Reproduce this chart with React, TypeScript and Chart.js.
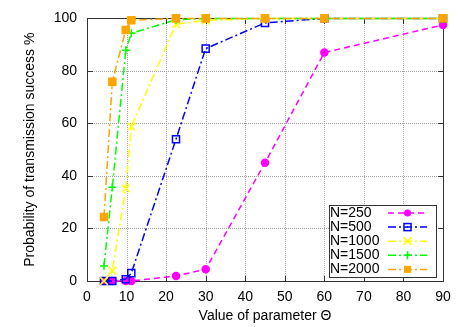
import React, { useEffect, useRef } from 'react';
import { Chart, registerables } from 'chart.js';

Chart.register(...registerables);

// ---- Data ----
const THETA = [4.3, 6.4, 9.8, 11.2, 22.5, 30, 45, 60, 90];
const N250 = [0, 0, 0, 0, 1.9, 4.5, 45, 87, 97.5];
const N500 = [0, 0, 0.7, 3, 54, 88.5, 98.3, 100, 100];
const N1000 = [0, 3.9, 35.3, 58.8, 97.8, 99.2, 100, 100, 100];
const N1500 = [5.7, 35.7, 87.9, 94.3, 99.5, 100, 100, 100, 100];
const N2000 = [24.4, 75.9, 95.6, 99.3, 100, 100, 100, 100, 100];
const SERIES_LABELS = ['N=250', 'N=500', 'N=1000', 'N=1500', 'N=2000'];
const SERIES_VALUES = [N250, N500, N1000, N1500, N2000];
const X_TICKS = [0, 10, 20, 30, 40, 50, 60, 70, 80, 90];
const Y_TICKS = [0, 20, 40, 60, 80, 100];
const X_TITLE = 'Value of parameter \u0398';
const Y_TITLE = 'Probability of transmission success %';

// ---- Styles ----
const FONT = '"Liberation Sans", Arial, Helvetica, sans-serif';
const DASH_DOT = [8, 3, 2, 3];
type St = { color: string; dash: number[]; point: string; radius: number; filled: boolean };
const STYLES: St[] = [
  { color: '#ff00ff', dash: [6, 4], point: 'circle', radius: 3.5, filled: true },
  { color: '#0000ff', dash: DASH_DOT, point: 'rect', radius: 5, filled: false },
  { color: '#ffff00', dash: DASH_DOT, point: 'crossRot', radius: 5.5, filled: false },
  { color: '#00ff00', dash: DASH_DOT, point: 'cross', radius: 4, filled: false },
  { color: '#ffa500', dash: DASH_DOT, point: 'rect', radius: 5, filled: true },
];

function drawMarker(ctx: CanvasRenderingContext2D, s: St, x: number, y: number) {
  ctx.save();
  ctx.setLineDash([]);
  ctx.strokeStyle = s.color;
  ctx.fillStyle = s.color;
  ctx.lineWidth = 1.5;
  if (s.point === 'circle') {
    ctx.beginPath();
    ctx.arc(x, y, s.radius, 0, Math.PI * 2);
    ctx.fill();
  } else if (s.point === 'rect') {
    const h = s.radius * Math.SQRT1_2;
    if (s.filled) ctx.fillRect(x - h, y - h, 2 * h, 2 * h);
    else {
      ctx.strokeRect(x - h, y - h, 2 * h, 2 * h);
      ctx.fillRect(x - 0.75, y - 0.75, 1.5, 1.5);
    }
  } else if (s.point === 'crossRot') {
    const h = s.radius * Math.SQRT1_2;
    ctx.beginPath();
    ctx.moveTo(x - h, y - h); ctx.lineTo(x + h, y + h);
    ctx.moveTo(x - h, y + h); ctx.lineTo(x + h, y - h);
    ctx.stroke();
  } else if (s.point === 'cross') {
    const h = s.radius;
    ctx.beginPath();
    ctx.moveTo(x - h, y); ctx.lineTo(x + h, y);
    ctx.moveTo(x, y - h); ctx.lineTo(x, y + h);
    ctx.stroke();
  }
  ctx.restore();
}

const framePlugin = {
  id: 'frame',
  beforeDatasetsDraw(chart: any) {
    const ctx: CanvasRenderingContext2D = chart.ctx;
    const a = chart.chartArea;
    const xs = chart.scales.x;
    const ys = chart.scales.y;
    const innerX = X_TICKS.slice(1, -1).map((v) => Math.round(xs.getPixelForValue(v)));
    const innerY = Y_TICKS.slice(1, -1).map((v) => Math.round(ys.getPixelForValue(v)));
    const top = Math.round(a.top);
    const bottom = Math.round(a.bottom);
    const left = Math.round(a.left);
    const right = Math.round(a.right);
    ctx.save();
    // dotted grid drawn as 1px dots
    ctx.fillStyle = '#a0a0a0';
    for (const px of innerX) {
      for (let y = top + 1; y < bottom; y += 2) ctx.fillRect(px, y, 1, 1);
    }
    for (const py of innerY) {
      for (let x = left + 1; x < right; x += 2) ctx.fillRect(x, py, 1, 1);
    }
    // frame
    ctx.fillStyle = '#333333';
    ctx.fillRect(left, top, right - left + 1, 1);
    ctx.fillRect(left, bottom, right - left + 1, 1);
    ctx.fillRect(left, top, 1, bottom - top + 1);
    ctx.fillRect(right, top, 1, bottom - top + 1);
    const tl = 5;
    for (const px of innerX) {
      ctx.fillRect(px, bottom - tl, 1, tl);
      ctx.fillRect(px, top + 1, 1, tl);
    }
    for (const py of innerY) {
      ctx.fillRect(left + 1, py, tl, 1);
      ctx.fillRect(right - tl, py, tl, 1);
    }
    ctx.restore();
  },
};

const legendPlugin = {
  id: 'boxLegend',
  afterDraw(chart: any) {
    const { ctx, chartArea: a } = chart;
    const right = a.right - 7;
    const bottom = a.bottom - 4;
    const w = 107;
    const rowH = 14.1;
    const h = 72;
    const left = right - w;
    const top = bottom - h;
    ctx.save();
    ctx.fillStyle = '#ffffff';
    ctx.fillRect(left, top, w, h);
    ctx.strokeStyle = '#333333';
    ctx.lineWidth = 1;
    ctx.setLineDash([]);
    ctx.strokeRect(Math.round(left) + 0.5, Math.round(top) + 0.5, w, h);
    ctx.font = `14px ${FONT}`;
    ctx.textBaseline = 'middle';
    ctx.textAlign = 'left';
    SERIES_LABELS.forEach((lab, i) => {
      const y = top + 8 + i * rowH;
      ctx.fillStyle = '#000000';
      ctx.fillText(lab, left + 1, y);
      const s = STYLES[i];
      ctx.strokeStyle = s.color;
      ctx.lineWidth = 1.5;
      ctx.setLineDash(s.dash);
      ctx.beginPath();
      ctx.moveTo(right - 48, y);
      ctx.lineTo(right - 9, y);
      ctx.stroke();
      drawMarker(ctx, s, right - 28.5, y);
    });
    ctx.restore();
  },
};

export default function App() {
  const ref = useRef<HTMLCanvasElement | null>(null);
  useEffect(() => {
    if (!ref.current) return;
    const datasets = SERIES_VALUES.map((vals, i) => {
      const s = STYLES[i];
      return {
        label: SERIES_LABELS[i],
        data: vals.map((v, j) => ({ x: THETA[j], y: v })),
        borderColor: s.color,
        backgroundColor: s.filled ? s.color : 'rgba(0,0,0,0)',
        borderWidth: 1.5,
        borderDash: s.dash,
        pointStyle: s.point,
        pointRadius: s.radius,
        pointBorderColor: s.color,
        pointBackgroundColor: s.filled ? s.color : 'rgba(0,0,0,0)',
        pointBorderWidth: 1.5,
        fill: false,
        tension: 0,
        clip: false,
        order: SERIES_LABELS.length - 1 - i,
      };
    });
    const chart = new Chart(ref.current, {
      type: 'line',
      data: { datasets },
      options: {
        animation: false,
        responsive: false,
        devicePixelRatio: 1,
        layout: { padding: { left: 0, top: 17, right: 22, bottom: 0 } },
        plugins: { legend: { display: false }, tooltip: { enabled: false } },
        scales: {
          x: {
            type: 'linear',
            min: X_TICKS[0],
            max: X_TICKS[X_TICKS.length - 1],
            afterFit: (s: any) => { s.height = 46; },
            ticks: { stepSize: 10, color: '#000', padding: 8, font: { family: FONT, size: 14 } },
            grid: { display: false, drawTicks: false },
            border: { display: false },
            title: {
              display: true,
              text: X_TITLE,
              color: '#000',
              font: { family: FONT, size: 14 },
              padding: { top: 0, bottom: 2 },
            },
          },
          y: {
            type: 'linear',
            min: Y_TICKS[0],
            max: Y_TICKS[Y_TICKS.length - 1],
            afterFit: (s: any) => { s.width = 87; },
            ticks: { stepSize: 20, color: '#000', padding: 10, font: { family: FONT, size: 14 } },
            grid: { display: false, drawTicks: false },
            border: { display: false },
            title: {
              display: true,
              text: Y_TITLE,
              color: '#000',
              font: { family: FONT, size: 14 },
              padding: { top: 22, bottom: 0 },
            },
          },
        },
      },
      plugins: [framePlugin, legendPlugin],
    } as any);
    return () => chart.destroy();
  }, []);
  return (
    <div style={{ position: 'absolute', left: 0, top: 0, width: 465, height: 327, background: '#fff' }}>
      <canvas ref={ref} width={465} height={327} style={{ width: 465, height: 327, display: 'block' }} />
    </div>
  );
}
